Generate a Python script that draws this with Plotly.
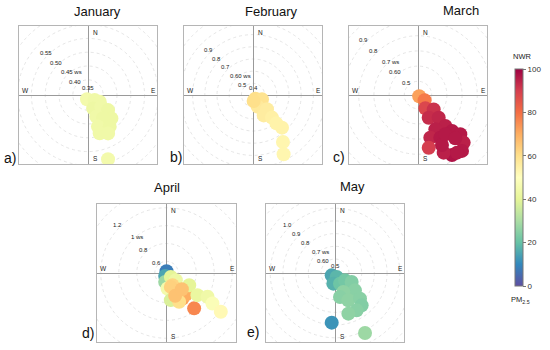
import numpy as np
import plotly.graph_objects as go

W, H = 550, 350

# ---------------- data (wind direction deg, wind speed, PM2.5 NWR) -------------
months = ["January", "February", "March", "April", "May"]
letters = ["a)", "b)", "c)", "d)", "e)"]

jan_dir = [193, 127, 120, 159, 131, 127, 159, 135, 147, 162.5, 145.6, 163, 152.4, 162.7]
jan_ws = [0.361, 0.375, 0.394, 0.397, 0.409, 0.436, 0.429, 0.465, 0.445, 0.465, 0.484, 0.490, 0.502, 0.589]
jan_pm = [45, 44, 44, 43, 44, 43, 44, 43, 43, 44, 43, 44, 44, 45]

feb_dir = [147.5, 115.7, 158, 135.7, 152.3, 140, 138.4, 147.5, 152.7, 140.5, 174]
feb_ws = [0.441, 0.487, 0.508, 0.569, 0.594, 0.647, 0.763, 0.862, 0.952, 0.706, 0.455]
feb_pm = [60, 59, 57, 56, 56, 55, 54, 53, 53, 54, 60]

mar_dir = [135, 128.7, 151.2, 132.5, 154.8, 137.6, 138.6, 153.2, 163.9, 168.5,
           152.4, 136.6, 132.9, 136.2, 141.8, 150.5, 156, 154.4, 145.2, 139.3, 145.9]
mar_ws = [0.421, 0.466, 0.51, 0.55, 0.575, 0.612, 0.682, 0.663, 0.702, 0.764,
          0.727, 0.736, 0.79, 0.844, 0.878, 0.864, 0.825, 0.775, 0.725, 0.786, 0.868]
mar_pm = [72, 78, 88, 92, 93, 94, 95, 95, 94, 90, 96, 96, 96, 95, 96, 97, 95, 96, 96, 96, 96]

apr_dir = [0, 204, 188.4, 132.7, 176.3, 128.2, 154.1, 150, 148.1, 138.3, 171, 142.2,
           118.5, 125.8, 120.3, 123.7, 125.7, 156.4, 162.8, 159.4, 136.8]
apr_ws = [0.489, 0.506, 0.571, 0.536, 0.644, 0.602, 0.622, 0.714, 0.806, 0.793, 0.777, 0.971,
          0.757, 0.894, 0.998, 1.084, 1.213, 0.821, 0.633, 0.743, 0.719]
apr_pm = [8, 15, 28, 40, 45, 43, 62, 68, 72, 70, 38, 76, 40, 42, 44, 48, 52, 60, 63, 66, 66]

may_dir = [235, 157.4, 188.9, 154.9, 126.3, 118.4, 131, 156.3, 168.2, 154, 135.7, 140.5,
           149.9, 161.8, 183.8, 153.4]
may_ws = [0.522, 0.524, 0.575, 0.583, 0.588, 0.639, 0.698, 0.653, 0.683, 0.729, 0.772, 0.82,
          0.83, 0.827, 0.882, 1.018]
may_pm = [15, 18, 17, 21, 22, 24, 25, 26, 25, 26, 25, 24, 25, 26, 12, 28]

# radial axis: centre value, grid values, labels
jan_r0, feb_r0, mar_r0, apr_r0, may_r0 = 0.345, 0.405, 0.41, 0.47, 0.49
jan_grid = [0.40, 0.45, 0.50, 0.55, 0.60, 0.65]
feb_grid = [0.5, 0.6, 0.7, 0.8, 0.9, 1.0, 1.1]
mar_grid = [0.5, 0.6, 0.7, 0.8, 0.9, 1.0]
apr_grid = [0.6, 0.8, 1.0, 1.2, 1.4]
may_grid = [0.6, 0.7, 0.8, 0.9, 1.0, 1.1, 1.2]
jan_lab = ["0.40", "0.45 ws", "0.50", "0.55"]
feb_lab = ["0.5", "0.60 ws", "0.7", "0.8", "0.9"]
mar_lab = ["0.5", "0.60", "0.7 ws", "0.8", "0.9"]
apr_lab = ["0.6", "0.8", "1 ws", "1.2"]
may_lab = ["0.60", "0.7 ws", "0.8", "0.9", "1.0"]
centre_lab = ["0.35", "0.4", "", "", "0.5"]

panels = [
    (jan_dir, jan_ws, jan_pm, jan_r0, jan_grid, jan_lab),
    (feb_dir, feb_ws, feb_pm, feb_r0, feb_grid, feb_lab),
    (mar_dir, mar_ws, mar_pm, mar_r0, mar_grid, mar_lab),
    (apr_dir, apr_ws, apr_pm, apr_r0, apr_grid, apr_lab),
    (may_dir, may_ws, may_pm, may_r0, may_grid, may_lab),
]

# ---------------- layout (screen pixels) ----------------
boxes = [(19, 26, 157, 164), (184, 26, 322, 164), (349, 26, 487, 164),
         (97, 204, 236, 342), (266, 204, 404, 342)]
pxunit = [276, 122, 152, 90, 127]
titles_xy = [(97, 12), (271, 11), (461, 10), (167, 187), (352, 186)]
letters_xy = [(10, 158), (176, 157), (339, 157), (88, 333), (253, 332)]


def px(x):
    return x / W


def py(y):
    return 1 - y / H


FONT = "Liberation Sans, Arial, sans-serif"
fig = go.Figure()
annotations = []
shapes = []
layout_axes = {}

for i, (dirs, ws, pm, r0, grid, labs) in enumerate(panels):
    x0, y0, x1, y1 = boxes[i]
    k = pxunit[i]
    half = (x1 - x0) / 2 / k
    sfx = "" if i == 0 else str(i + 1)
    xa, ya = "x" + sfx, "y" + sfx
    d = np.radians(np.array(dirs, float))
    rr = np.array(ws, float) - r0
    fig.add_trace(go.Scatter(
        x=rr * np.sin(d), y=rr * np.cos(d), mode="markers", xaxis=xa, yaxis=ya,
        marker=dict(size=14, color=pm, coloraxis="coloraxis", line=dict(width=0)),
        hoverinfo="skip", showlegend=False))
    ax_common = dict(showgrid=False, showticklabels=False, ticks="",
                     zeroline=True, zerolinecolor="#9a9a9a", zerolinewidth=1,
                     showline=True, mirror=True, linecolor="#b5b5b5", linewidth=1,
                     range=[-half, half], fixedrange=True)
    layout_axes["xaxis" + sfx] = dict(ax_common, domain=[px(x0), px(x1)], anchor=ya)
    layout_axes["yaxis" + sfx] = dict(ax_common, domain=[py(y1), py(y0)], anchor=xa)
    for g in grid:
        rg = g - r0
        shapes.append(dict(type="circle", xref=xa, yref=ya, x0=-rg, x1=rg, y0=-rg, y1=rg,
                           line=dict(color="#dedede", width=0.8, dash="dot"), layer="below"))
    for g, lab in zip(grid, labs):
        dd = (g - r0) + 3.0 / k
        annotations.append(dict(x=-dd / np.sqrt(2), y=dd / np.sqrt(2), xref=xa, yref=ya,
                                text=lab, showarrow=False,
                                xshift=6 if "ws" in lab else 0,
                                font=dict(size=6, color="#222", family=FONT)))
    if centre_lab[i]:
        annotations.append(dict(x=0, y=0, xref=xa, yref=ya, text=centre_lab[i], showarrow=False,
                                yshift=7, font=dict(size=6, color="#222", family=FONT)))
    for t, xx, yy, xs, ys in [("N", 0, half, 7, -6), ("S", 0, -half, 7, 6),
                              ("E", half, 0, -4, 5), ("W", -half, 0, 6, 5)]:
        annotations.append(dict(x=xx, y=yy, xref=xa, yref=ya, text=t, showarrow=False,
                                xshift=xs, yshift=ys, font=dict(size=6.5, color="#222", family=FONT)))
    tx, ty = titles_xy[i]
    annotations.append(dict(x=px(tx), y=py(ty), xref="paper", yref="paper", text=months[i],
                            showarrow=False, xanchor="center", yanchor="middle",
                            font=dict(size=13, color="#111", family=FONT)))
    lx, ly = letters_xy[i]
    annotations.append(dict(x=px(lx), y=py(ly), xref="paper", yref="paper", text=letters[i],
                            showarrow=False, xanchor="center", yanchor="middle",
                            font=dict(size=14, color="#111", family=FONT)))

annotations.append(dict(x=px(533), y=py(50), xref="paper", yref="paper", text="NWR",
                        showarrow=False, font=dict(size=7.5, color="#222", family=FONT)))
annotations.append(dict(x=px(532), y=py(307), xref="paper", yref="paper",
                        text="PM<sub>2.5</sub>", showarrow=False,
                        font=dict(size=7.5, color="#222", family=FONT)))

fig.update_layout(
    width=W, height=H, margin=dict(l=0, r=0, t=0, b=0),
    paper_bgcolor="white", plot_bgcolor="white",
    font=dict(family=FONT),
    coloraxis=dict(colorscale="Spectral_r", cmin=0, cmax=100,
                   colorbar=dict(x=px(515), xanchor="left", y=py(177.5), yanchor="middle",
                                 len=217, lenmode="pixels", thickness=8, thicknessmode="pixels",
                                 outlinewidth=1, outlinecolor="#777", xpad=0, ypad=0,
                                 tickvals=[0, 20, 40, 60, 80, 100], ticks="outside", ticklen=3,
                                 tickcolor="#777", tickfont=dict(size=8, color="#333", family=FONT))),
    shapes=shapes, annotations=annotations, **layout_axes)

# remove the browser's default 8px body margin so the figure sits at the page origin
fig.write_html("out.html", config={"displayModeBar": False},
               post_script="document.body.style.margin='0';")
